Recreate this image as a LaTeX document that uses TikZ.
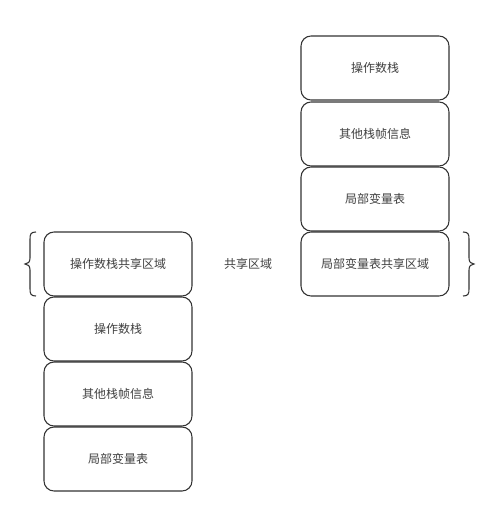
\documentclass[tikz,border=0pt]{standalone}
\usepackage{fontspec}
\setmainfont{Noto Sans CJK SC}
\definecolor{ln}{HTML}{333333}
\definecolor{tx}{HTML}{404040}
\begin{document}
\begin{tikzpicture}[x=0.75pt,y=-0.75pt,
  box/.style={draw=ln,line width=0.8pt,rounded corners=7.5pt,minimum width=111pt,minimum height=48pt,inner sep=0pt,font=\fontsize{9pt}{10pt}\selectfont,text=tx,fill=white},
  lbl/.style={font=\fontsize{9pt}{10pt}\selectfont,text=tx},
  brc/.style={draw=ln,line width=0.8pt}]
\useasboundingbox (0,0) rectangle (499,514);
% right column
\node[box] (r4) at (375,264) {局部变量表共享区域};
\node[box] (r3) at (375,199) {局部变量表};
\node[box] (r2) at (375,134) {其他栈帧信息};
\node[box] (r1) at (375,68) {操作数栈};
% left column
\node[box] (l1) at (118,264) {操作数栈共享区域};
\node[box] (l2) at (118,329) {操作数栈};
\node[box] (l3) at (118,394) {其他栈帧信息};
\node[box] (l4) at (118,459) {局部变量表};
\node[lbl] (sh) at (248,264) {共享区域};
% braces
\draw[brc] (36,232) .. controls (31,232) and (30,234) .. (30,239) -- (30,258)
  .. controls (30,262) and (28,264) .. (25,264)
  .. controls (28,264) and (30,266) .. (30,270) -- (30,289)
  .. controls (30,294) and (31,296) .. (36,296);
\draw[brc] (463,232) .. controls (468,232) and (469,234) .. (469,239) -- (469,258)
  .. controls (469,262) and (471,264) .. (474,264)
  .. controls (471,264) and (469,266) .. (469,270) -- (469,289)
  .. controls (469,294) and (468,296) .. (463,296);
\end{tikzpicture}
\end{document}
